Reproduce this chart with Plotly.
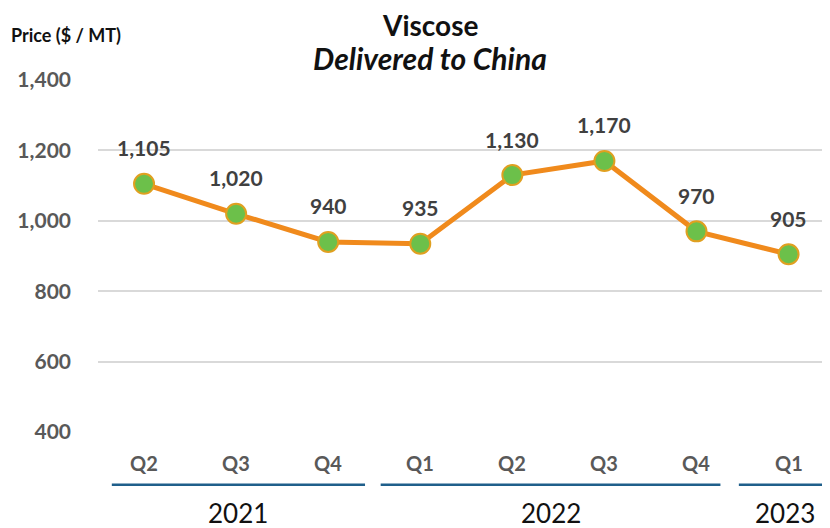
import plotly.graph_objects as go

quarters = ["Q2", "Q3", "Q4", "Q1", "Q2", "Q3", "Q4", "Q1"]
prices = [1105, 1020, 940, 935, 1130, 1170, 970, 905]
years = ["2021", "2022", "2023"]
year_spans = [(-0.35, 2.40), (2.57, 6.26), (6.46, 7.46)]
y_ticks = [400, 600, 800, 1000, 1200, 1400]

x = list(range(len(quarters)))
FONT = "Lato, Open Sans, sans-serif"

fig = go.Figure()
fig.add_trace(go.Scatter(
    x=x, y=prices, mode="lines+markers",
    line=dict(color="#F08A1C", width=5),
    marker=dict(size=20, color="#6CC04A", line=dict(color="#E0A020", width=2)),
    hoverinfo="skip", showlegend=False,
))

annotations = []
for xi, p in zip(x, prices):
    annotations.append(dict(x=xi, y=p, xref="x", yref="y", text=f"<b>{p:,}</b>",
                            showarrow=False, yshift=36, yanchor="middle",
                            font=dict(family=FONT, size=21, color="#404040")))
for xi, q in zip(x, quarters):
    annotations.append(dict(x=xi, y=-0.088, xref="x", yref="paper", text=f"<b>{q}</b>",
                            showarrow=False, yanchor="middle",
                            font=dict(family=FONT, size=20, color="#595959")))
shapes = []
for (a, b), yr in zip(year_spans, years):
    shapes.append(dict(type="line", xref="x", yref="paper", x0=a, x1=b, y0=-0.15, y1=-0.15,
                       line=dict(color="#1F5F8B", width=2.5)))
    annotations.append(dict(x=(a + b) / 2, y=-0.23, xref="x", yref="paper", text=yr,
                            showarrow=False, yanchor="middle",
                            font=dict(family=FONT, size=26, color="#111111")))

annotations.append(dict(x=0.4536, y=1.156, xref="paper", yref="paper", xanchor="center",
                        yanchor="middle", borderpad=0, text="<b>Viscose</b>", showarrow=False,
                        font=dict(family=FONT, size=28, color="#111111")))
annotations.append(dict(x=0.4536, y=1.0625, xref="paper", yref="paper", xanchor="center",
                        yanchor="middle", text="<b><i>Delivered to China</i></b>", showarrow=False,
                        font=dict(family=FONT, size=30, color="#111111")))
annotations.append(dict(x=-0.122, y=1.128, xref="paper", yref="paper", xanchor="left",
                        yanchor="middle", text="<b>Price ($ / MT)</b>", showarrow=False,
                        font=dict(family=FONT, size=18, color="#111111")))

fig.update_layout(
    width=830, height=528,
    margin=dict(l=90, r=8, t=72, b=104),
    paper_bgcolor="white", plot_bgcolor="white",
    xaxis=dict(range=[-0.5, 7.45], showticklabels=False, showgrid=False, zeroline=False,
               showline=False, fixedrange=True),
    yaxis=dict(range=[400, 1400], tickvals=y_ticks, ticktext=[f"{v:,}" for v in y_ticks],
               showgrid=True, gridcolor="#D9D9D9", gridwidth=1.5, zeroline=False,
               showline=False, ticklabelstandoff=26,
               tickfont=dict(family=FONT, size=21, color="#595959", weight="bold")),
    annotations=annotations, shapes=shapes,
)
fig.write_html("out.html")
